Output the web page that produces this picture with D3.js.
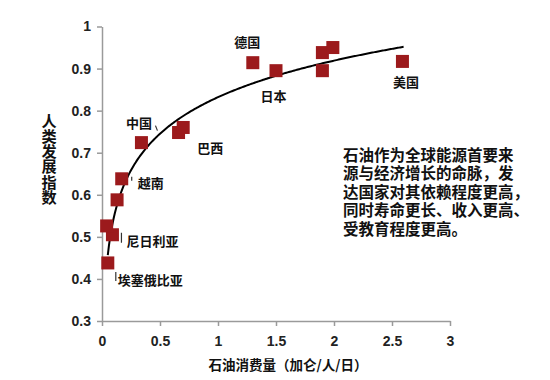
<!DOCTYPE html>
<html>
<head>
<meta charset="utf-8">
<script src="https://cdn.jsdelivr.net/npm/d3@7/dist/d3.min.js"></script>
<style>
  html, body { margin: 0; padding: 0; background: #fff; }
  svg { display: block; }
  .axis path, .axis line { stroke: #9a9a9a; stroke-width: 1.5; }
  .axis text { font-family: Arial, "Liberation Sans", sans-serif; font-weight: bold; font-size: 14px; fill: #222; }
  .cjk { font-family: "Noto Sans CJK SC", sans-serif; font-weight: 700; fill: #111; }
  .note { font-family: "Liberation Sans", "Noto Sans CJK SC", sans-serif; font-weight: 700; fill: #111; }
</style>
</head>
<body>
<svg id="chart" width="550" height="380"></svg>
<script>
// ---- data ----
const oilUse = [0.05, 0.09, 0.04, 0.13, 0.17, 0.34, 0.66, 0.70, 1.30, 1.50, 1.90, 1.99, 1.90, 2.59];
const hdi    = [0.438, 0.505, 0.526, 0.588, 0.638, 0.724, 0.748, 0.760, 0.914, 0.895, 0.938, 0.950, 0.895, 0.917];
const countryNames = ["埃塞俄比亚", "尼日利亚", "越南", "中国", "巴西", "德国", "日本", "美国"];
const countryPoint = [0, 1, 4, 5, 7, 8, 9, 13];
const xTicks = [0, 0.5, 1, 1.5, 2, 2.5, 3];
const yTicks = [0.3, 0.4, 0.5, 0.6, 0.7, 0.8, 0.9, 1];
// logarithmic trend line: hdi = a + b * ln(oil)
const trendA = 0.832, trendB = 0.1253, trendFrom = 0.05, trendTo = 2.6;
const xTitle = "石油消费量（加仑/人/日）";
const yTitle = "人类发展指数";
const noteLines = ["石油作为全球能源首要来", "源与经济增长的命脉，发", "达国家对其依赖程度更高，", "同时寿命更长、收入更高、", "受教育程度更高。"];

// ---- layout ----
const svg = d3.select("#chart");
const x = d3.scaleLinear().domain([0, 3]).range([102, 450]);
const y = d3.scaleLinear().domain([0.3, 1]).range([321, 26.5]);

svg.append("g").attr("class", "axis")
  .attr("transform", `translate(0,${y(0.3)})`)
  .call(d3.axisBottom(x).tickValues(xTicks).tickFormat(d3.format("~g")).tickSize(5).tickSizeOuter(0).tickPadding(10));
svg.append("g").attr("class", "axis")
  .attr("transform", `translate(${x(0)},0)`)
  .call(d3.axisLeft(y).tickValues(yTicks).tickFormat(d3.format("~g")).tickSize(5).tickSizeOuter(0).tickPadding(6));

// trend line
const trendXs = d3.range(trendFrom, trendTo + 1e-9, 0.01);
svg.append("path")
  .datum(trendXs)
  .attr("fill", "none").attr("stroke", "#000").attr("stroke-width", 2)
  .attr("d", d3.line().x(d => x(d)).y(d => y(trendA + trendB * Math.log(d))));

// points
const sq = 13;
svg.append("g").selectAll("rect").data(oilUse).join("rect")
  .attr("x", (d, i) => x(d) - sq / 2)
  .attr("y", (d, i) => y(hdi[i]) - sq / 2)
  .attr("width", sq).attr("height", sq)
  .attr("fill", "#9c1a1c");

// country labels (offsets: dx, dy, anchor)
const labelOffsets = [
  [10, 17, "start"], [14, 6, "start"], [16, 4, "start"], [-2.5, -20, "middle"],
  [27, 20, "middle"], [-5.5, -21, "middle"], [-2.5, 25, "middle"], [3.5, 20, "middle"]
];
countryNames.forEach((name, k) => {
  const i = countryPoint[k];
  const o = labelOffsets[k];
  svg.append("text").attr("class", "cjk")
    .attr("x", x(oilUse[i]) + o[0]).attr("y", y(hdi[i]) + o[1])
    .attr("text-anchor", o[2]).attr("dominant-baseline", "central")
    .attr("font-size", "13px").text(name);
});
// small leader marks
const leaders = [
  [0, 8, 9, 8, 18], [1, 9, -2, 9, 8], [4, 10, -2, 10, 2], [5, 14, -17, 16, -12]
];
leaders.forEach(l => {
  const px = x(oilUse[l[0]]), py = y(hdi[l[0]]);
  svg.append("line").attr("x1", px + l[1]).attr("y1", py + l[2]).attr("x2", px + l[3]).attr("y2", py + l[4])
    .attr("stroke", "#333").attr("stroke-width", 1.2);
});

// axis titles
svg.append("text").attr("class", "cjk").attr("x", 288).attr("y", 364)
  .attr("text-anchor", "middle").attr("dominant-baseline", "central")
  .attr("font-size", "13.5px").text(xTitle);
svg.append("text").attr("class", "cjk")
  .attr("x", 49).attr("y", 113.5)
  .style("writing-mode", "vertical-rl")
  .attr("font-size", "15.2px").text(yTitle);

// annotation
noteLines.forEach((t, i) => {
  svg.append("text").attr("class", "note").attr("x", 343).attr("y", 160.5 + i * 18.6)
    .attr("font-size", "15.5px").text(t);
});
</script>
</body>
</html>
